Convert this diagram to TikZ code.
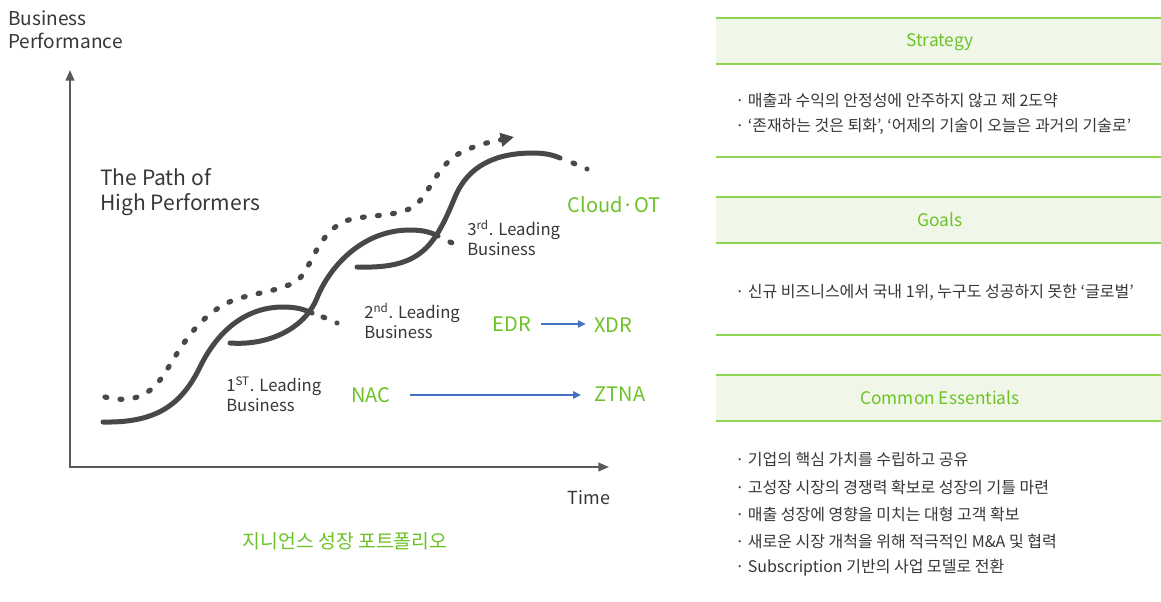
\documentclass[tikz,border=0pt]{standalone}
\usepackage{fontspec}
\setmainfont{Noto Sans CJK KR}
\usetikzlibrary{arrows.meta}
\definecolor{lgreen}{RGB}{108,194,38}
\definecolor{bandfill}{RGB}{240,247,233}
\definecolor{bandline}{RGB}{140,212,82}
\definecolor{curvegray}{RGB}{72,72,72}
\definecolor{txtgray}{RGB}{55,55,55}
\definecolor{arrowblue}{RGB}{68,114,196}
\begin{document}
\begin{tikzpicture}[x=0.75pt,y=-0.75pt,
  axisline/.style={draw=curvegray!90,line width=1.5pt,-{Triangle[length=8pt,width=6.5pt]}},
  solidc/.style={draw=curvegray,line width=3.75pt,line cap=round},
  dotc/.style={draw=curvegray,line width=3.9pt,line cap=round,dash pattern=on 1.4pt off 10pt},
  lbl/.style={text=txtgray,font=\fontsize{12.5}{15}\selectfont,align=left,anchor=west,inner sep=0pt},
  glbl/.style={text=lgreen,font=\fontsize{15}{18}\selectfont,inner sep=0pt},
  barrow/.style={draw=arrowblue,line width=1.1pt,-{Triangle[length=6pt,width=5.5pt]}},
  band/.style={fill=bandfill,draw=none},
  bandedge/.style={draw=bandline,line width=1.6pt},
  head/.style={text=lgreen,font=\fontsize{13}{15}\selectfont,inner sep=0pt},
  bul/.style={text=txtgray,font=\fontsize{12}{14}\selectfont,anchor=west,inner sep=0pt}
]
\useasboundingbox (0,0) rectangle (1161,601);
\fill[white] (0,0) rectangle (1161,601);

% axes
\coordinate (origin) at (70,467);
\coordinate (ytop) at (70,70);
\coordinate (xend) at (609,467);
\draw[axisline] (origin) -- (ytop);
\draw[axisline] ([xshift=-0.75pt]origin) -- (xend);

\node[lbl,font=\fontsize{14.3}{17.2}\selectfont] (yl) at (8,30) {Business\\Performance};
\node[text=txtgray,font=\fontsize{13.5}{16}\selectfont,inner sep=0pt] (xl) at (589,498) {Time};

\node[lbl,font=\fontsize{15.8}{18.5}\selectfont] (path) at (100,192) {The Path of\\High Performers};

% dotted high performers path
\draw[dotc,-{Triangle[length=10pt,width=10pt]}] (105,397)
  .. controls (125,402) and (145,400) .. (160,380)
  .. controls (175,360) and (190,322) .. (227,303)
  .. controls (250,292) and (285,292) .. (300,278)
  .. controls (312,265) and (318,235) .. (343,222)
  .. controls (360,214) and (395,218) .. (413,207)
  .. controls (428,197) and (435,170) .. (455,156)
  .. controls (472,145) and (495,141) .. (514,137);

% business curves
\draw[solidc] (103,422) .. controls (155,423) and (181,406) .. (200,367)
  .. controls (217,332) and (245,307) .. (283,307)
  .. controls (298,307) and (305,310) .. (312,313);
\draw[dotc] (323,317) -- (337,323);

\draw[solidc] (230,343) .. controls (272,346) and (306,326) .. (317,298)
  .. controls (328,270) and (360,230) .. (410,230)
  .. controls (425,230) and (432,233) .. (438,236);
\draw[dotc] (450,242) -- (463,247);

\draw[solidc] (357,267) .. controls (420,269) and (434,248) .. (455,197)
  .. controls (468,166) and (495,153) .. (533,153)
  .. controls (545,153) and (553,155) .. (560,158);
\draw[dotc] (573,163) -- (587,169);

\node[lbl] (b1) at (226,394) {1\textsuperscript{ST}. Leading\\Business};
\node[lbl] (b2) at (364,321) {2\textsuperscript{nd}. Leading\\Business};
\node[lbl] (b3) at (467,238) {3\textsuperscript{rd}. Leading\\Business};

\node[glbl] (cloud) at (614,205) {Cloud·OT};
\node[glbl] (edr) at (512,324) {EDR};
\node[glbl] (xdr) at (613,325) {XDR};
\node[glbl] (nac) at (371,395) {NAC};
\node[glbl] (ztna) at (620,394) {ZTNA};
\draw[barrow] (edr.east) ++(7.5pt,0) coordinate (e1) -- ([xshift=-6pt]xdr.west |- e1);
\draw[barrow] (nac.east) ++(14pt,0) coordinate (n1) -- ([xshift=-10pt]ztna.west |- n1);

\node[text=lgreen,font=\fontsize{14.5}{17}\selectfont,inner sep=0pt] (title) at (345,541) {지니언스 성장 포트폴리오};

% right panel
\fill[band] (716,18) rectangle (1161,64);
\draw[bandedge] (716,18) -- (1161,18);
\draw[bandedge] (716,64) -- (1161,64);
\node[head] (h1) at (940,42) {Strategy};
\node[bul] (s1) at (735,100) {· 매출과 수익의 안정성에 안주하지 않고 제 2도약};
\node[bul] (s2) at (735,126) {· ‘존재하는 것은 퇴화’, ‘어제의 기술이 오늘은 과거의 기술로’};
\draw[bandedge] (716,157) -- (1161,157);

\fill[band] (716,197) rectangle (1161,243);
\draw[bandedge] (716,197) -- (1161,197);
\draw[bandedge] (716,243) -- (1161,243);
\node[head] (h2) at (940,220) {Goals};
\node[bul] (g1) at (735,292) {· 신규 비즈니스에서 국내 1위, 누구도 성공하지 못한 ‘글로벌’};
\draw[bandedge] (716,335) -- (1161,335);

\fill[band] (716,375) rectangle (1161,421);
\draw[bandedge] (716,375) -- (1161,375);
\draw[bandedge] (716,421) -- (1161,421);
\node[head] (h3) at (940,398) {Common Essentials};
\node[bul] (c1) at (735,460) {· 기업의 핵심 가치를 수립하고 공유};
\node[bul] (c2) at (735,487) {· 고성장 시장의 경쟁력 확보로 성장의 기틀 마련};
\node[bul] (c3) at (735,514) {· 매출 성장에 영향을 미치는 대형 고객 확보};
\node[bul] (c4) at (735,541) {· 새로운 시장 개척을 위해 적극적인 M\&A 및 협력};
\node[bul] (c5) at (735,568) {· Subscription 기반의 사업 모델로 전환};
\end{tikzpicture}
\end{document}
